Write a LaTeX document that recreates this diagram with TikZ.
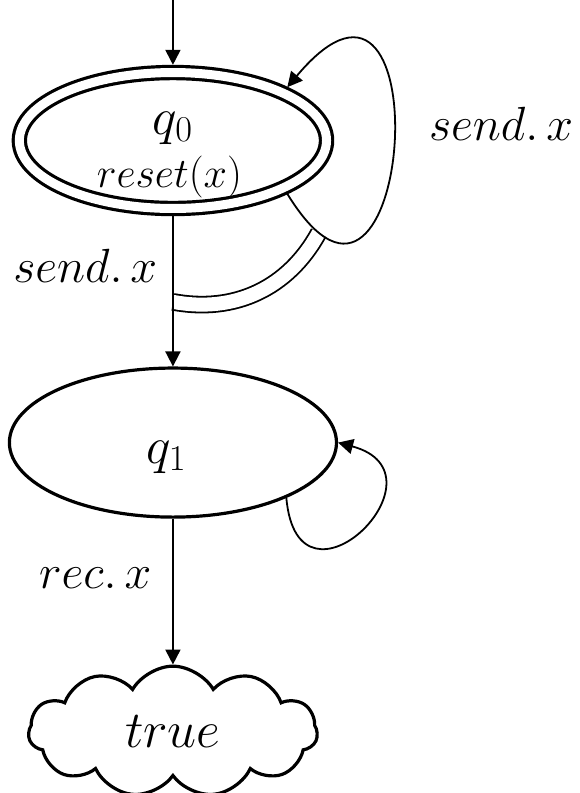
\RequirePackage{fix-cm}
\documentclass[tikz,border=0pt]{standalone}
\usepackage{tikz}
\usetikzlibrary{shapes.geometric, shapes.symbols, arrows.meta, positioning, backgrounds}

\begin{document}
\begin{tikzpicture}[
        statebox/.style={
            ellipse,
            draw=black,
            line width=1.6pt,
            inner sep=0pt,
            outer sep=0.8pt
        },
        startbox/.style={
            statebox,
            double,
            double distance=4.5pt,
            outer sep=3.85pt
        },
        goalbox/.style={
            cloud,
            cloud puffs=11,
            cloud puff arc=120,
            cloud ignores aspect,
            draw=black,
            line width=1.6pt,
            minimum width=5.08cm,
            minimum height=2.3cm,
            font=\fontsize{26}{30}\selectfont
        },
        trans/.style={
            draw=black,
            line width=0.9pt,
            -{Triangle[length=7.5pt,width=7.5pt]}
        },
        link/.style={
            draw=black,
            line width=0.9pt,
            double,
            double distance=7pt
        },
        lbl/.style={font=\fontsize{24}{28}\selectfont},
        statename/.style={anchor=base, font=\fontsize{26}{30}\selectfont}
    ]
        \useasboundingbox (0,0) rectangle (10.19,-13.94);

        % States
        \node[startbox, minimum width=5.4cm, minimum height=2.39cm] (q0) at (3.04,-2.47) {};
        \node[statename] (q0name) at ([yshift=3.25pt]q0.center) {$q_0$};
        \node[anchor=base, font=\fontsize{21}{25}\selectfont] (q0act) at ([xshift=-1.75pt, yshift=-23.75pt]q0.center) {$reset(x)$};

        \node[statebox, minimum width=5.75cm, minimum height=2.62cm] (q1) at (3.04,-7.78) {};
        \node[statename] (q1name) at ([xshift=-3.25pt, yshift=-10.25pt]q1.center) {$q_1$};

        \node[goalbox] (goal) at (3.04,-12.86) {$true$};

        % Entry arrow
        \coordinate (entry) at (3.04,0);
        \draw[trans] (entry) -- (q0.north);

        % Transitions
        \draw[trans] (q0.south) -- (q1.north) coordinate[pos=0.57] (tap) node[lbl, left=4pt, pos=0.33] {$send.\,x$};
        \draw[trans] (q1.south) -- (goal.north) node[lbl, left=7pt, pos=0.41] {$rec.\,x$};

        % Self loops
        \draw[trans] (q0.-25) .. controls +(-58.5:4.2) and +(50:4.32) .. (q0.25) coordinate[pos=0.09] (loopfoot) node[lbl, right=14pt, pos=0.55] {$send.\,x$};
        \draw[trans] (q1.-26) .. controls +(-85:2.29) and +(-15:2.11) .. (q1.east);

        % Reset link
        \begin{pgfonlayer}{background}
            \draw[link] (loopfoot) to[bend left=36] (tap);
        \end{pgfonlayer}
\end{tikzpicture}
\end{document}
